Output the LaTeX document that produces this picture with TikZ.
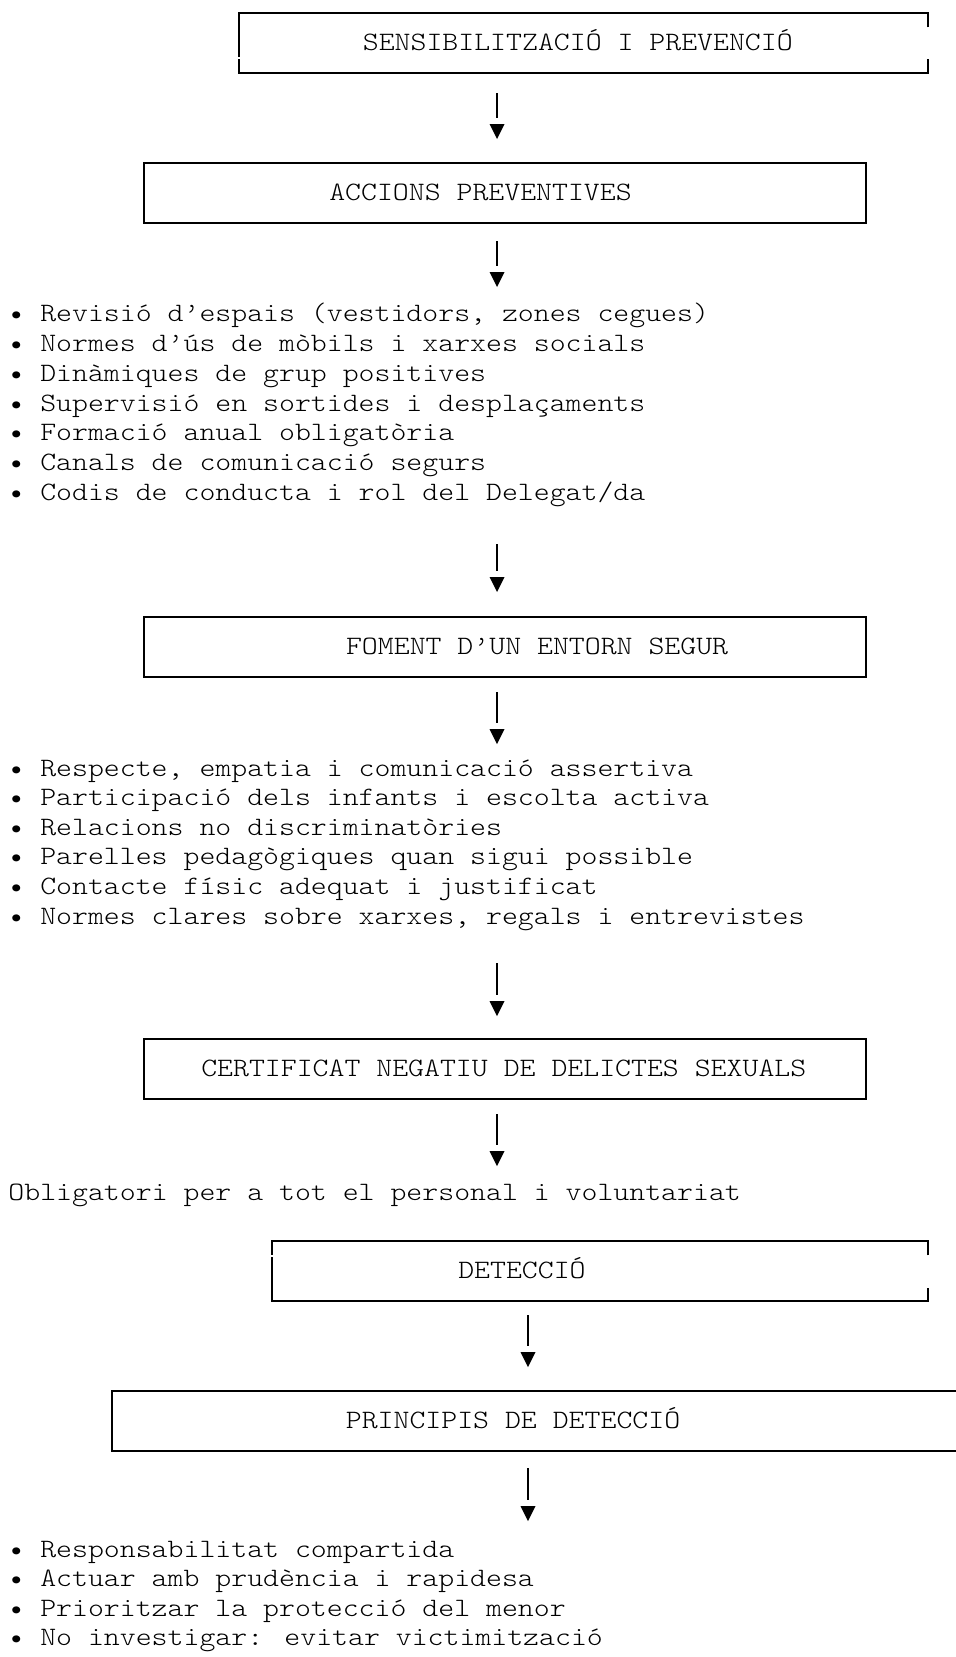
\documentclass[tikz,border=0pt]{standalone}
\usepackage{fontspec}
\setmainfont{Latin Modern Mono Light}[FakeStretch=1.143]
\usetikzlibrary{calc}
\def\flowdown(#1)(#2){\draw[stem] (#1) -- ($(#2)+(0,-21.5)$);
  \fill ($(#2)$) -- ++(-7.5,-15) -- ++(15,0) -- cycle;}

\begin{document}
\begin{tikzpicture}[x=0.75pt,y=-0.75pt,
  frame/.style={line width=1.5pt},
  stem/.style={line width=1.1pt},
  txt/.style={anchor=base west,inner sep=0pt,font=\fontsize{19.9pt}{24pt}\selectfont}]
  %%%%% START %%%%%
  \fill[white] (0,0) rectangle (956,1657);
  \useasboundingbox (0,0) rectangle (956,1657);

  % sensibilitzacio
  \draw[frame] (927.7,27.4) -- (927.7,12.7) -- (239.3,12.7) -- (239.3,57.4);
  \draw[frame] (239.3,59.4) -- (239.3,72.7) -- (927.7,72.7) -- (927.7,59.4);
  \node[txt] (sens) at (362.6,50) {SENSIBILITZACIÓ I PREVENCIÓ};
  \coordinate (s1) at (497,93);
  \coordinate (t1) at (497,139);
  \flowdown(s1)(t1)

  % accions preventives
  \draw[frame] (144,163) rectangle (866,223);
  \node[txt] (accions) at (329,200.5) {ACCIONS PREVENTIVES};
  \coordinate (s2) at (497,241);
  \coordinate (t2) at (497,287);
  \flowdown(s2)(t2)

  \node[txt] (acc1) at (8.2,321) {• Revisió d’espais (vestidors, zones cegues)};
  \node[txt] (acc2) at (8.2,351) {• Normes d’ús de mòbils i xarxes socials};
  \node[txt] (acc3) at (8.2,381) {• Dinàmiques de grup positives};
  \node[txt] (acc4) at (8.2,411) {• Supervisió en sortides i desplaçaments};
  \node[txt] (acc5) at (8.2,440) {• Formació anual obligatòria};
  \node[txt] (acc6) at (8.2,470) {• Canals de comunicació segurs};
  \node[txt] (acc7) at (8.2,500) {• Codis de conducta i rol del Delegat/da};

  \coordinate (s3) at (497,544);
  \coordinate (t3) at (497,592);
  \flowdown(s3)(t3)

  % entorn segur
  \draw[frame] (144,617) rectangle (866,677);
  \node[txt] (foment) at (345.8,654.5) {FOMENT D’UN ENTORN SEGUR};
  \coordinate (s4) at (497,692);
  \coordinate (t4) at (497,744);
  \flowdown(s4)(t4)

  \node[txt] (ent1) at (8.2,776) {• Respecte, empatia i comunicació assertiva};
  \node[txt] (ent2) at (8.2,805.6) {• Participació dels infants i escolta activa};
  \node[txt] (ent3) at (8.2,835.2) {• Relacions no discriminatòries};
  \node[txt] (ent4) at (8.2,864.8) {• Parelles pedagògiques quan sigui possible};
  \node[txt] (ent5) at (8.2,894.4) {• Contacte físic adequat i justificat};
  \node[txt] (ent6) at (8.2,924) {• Normes clares sobre xarxes, regals i entrevistes};

  \coordinate (s5) at (497,963);
  \coordinate (t5) at (497,1016);
  \flowdown(s5)(t5)

  % certificat
  \draw[frame] (144,1039) rectangle (866,1099);
  \node[txt] (cert) at (201,1076.5) {CERTIFICAT NEGATIU DE DELICTES SEXUALS};
  \coordinate (s6) at (497,1114);
  \coordinate (t6) at (497,1166);
  \flowdown(s6)(t6)
  \node[txt] (oblig) at (8.2,1200) {Obligatori per a tot el personal i voluntariat};

  % deteccio
  \draw[frame] (928,1255.3) -- (928,1241) -- (272.3,1241) -- (272.3,1255.3);
  \draw[frame] (272.3,1257.3) -- (272.3,1301) -- (928,1301) -- (928,1287.7);
  \node[txt] (detec) at (458,1278) {DETECCIÓ};
  \coordinate (s7) at (528,1315);
  \coordinate (t7) at (528,1367);
  \flowdown(s7)(t7)

  % principis
  \draw[frame] (956,1391) -- (112,1391) -- (112,1451) -- (956,1451);
  \node[txt] (princ) at (345.6,1428) {PRINCIPIS DE DETECCIÓ};
  \coordinate (s8) at (528,1468);
  \coordinate (t8) at (528,1521);
  \flowdown(s8)(t8)

  \node[txt] (pr1) at (8.2,1557) {• Responsabilitat compartida};
  \node[txt] (pr2) at (8.2,1586.6) {• Actuar amb prudència i rapidesa};
  \node[txt] (pr3) at (8.2,1616.2) {• Prioritzar la protecció del menor};
  \node[txt] (pr4) at (8.2,1645.8) {• No investigar: evitar victimització};
  %%%%% END %%%%%
\end{tikzpicture}
\end{document}
